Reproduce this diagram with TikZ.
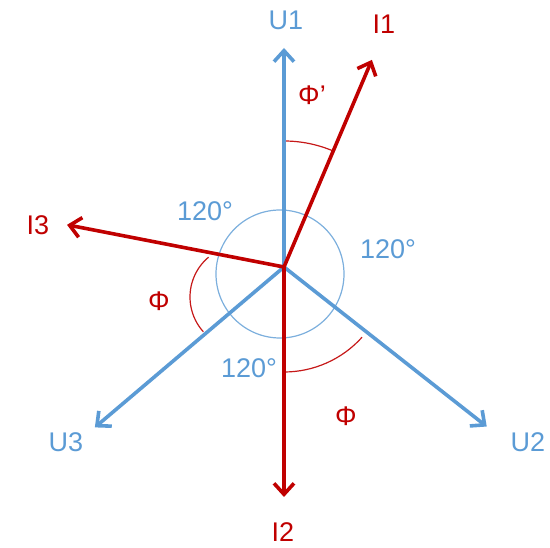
\documentclass[tikz,border=0pt]{standalone}
\usepackage{fontspec}
\setmainfont{Liberation Sans}
\usetikzlibrary{arrows.meta,calc}
\definecolor{ublue}{RGB}{91,155,213}
\definecolor{ired}{RGB}{192,0,0}
\tikzset{
    uvec/.style={ublue, line width=3.6pt, -{Straight Barb[length=11pt,width=20pt,line width=3.6pt]}},
    ivec/.style={ired, line width=3.6pt, -{Straight Barb[length=11pt,width=20pt,line width=3.6pt]}},
    ulabel/.style={ublue, inner sep=0pt},
    ilabel/.style={ired, inner sep=0pt},
    anglearc/.style={ired!90!white, line width=1.2pt},
}
\begin{document}
\begin{tikzpicture}[x=1pt, y=1pt, font=\fontsize{27}{32}\selectfont]
    \useasboundingbox (-284,-281) rectangle (266,267);

    % Origin and phasor tips
    \coordinate (O) at (0,0);
    \coordinate (U1) at (90:219);
    \coordinate (U2) at (-38.2:258);
    \coordinate (U3) at (220.3:248);
    \coordinate (I1) at (67:225);
    \coordinate (I2) at (270:230);
    \coordinate (I3) at (169:221);

    % 120 degree circle
    \draw[ublue!80!white, line width=1.2pt] (-4,-7) circle (64);

    % Phase angle arcs
    \draw[anglearc] (67:126) arc (67:90:126);
    \draw[anglearc] ($(-42,-30)+(130:52)$) arc (130:222:52);
    \draw[anglearc] (270:105) arc (270:318:105);

    % Voltage phasors
    \draw[uvec] (O) -- (U1);
    \draw[uvec] (O) -- (U2);
    \draw[uvec] (O) -- (U3);

    % Current phasors
    \draw[ivec] (O) -- (I1);
    \draw[ivec] (O) -- (I2);
    \draw[ivec] (O) -- (I3);

    % Labels
    \node[ulabel] (lU1) at (2,247) {U1};
    \node[ulabel] (lU2) at (244,-175) {U2};
    \node[ulabel] (lU3) at (-218,-175) {U3};
    \node[ilabel] (lI1) at (100,243) {I1};
    \node[ilabel] (lI2) at (-1,-265) {I2};
    \node[ilabel] (lI3) at (-246,42) {I3};
    \node[ulabel] (aTL) at (-79,56) {120°};
    \node[ulabel] (aR) at (104,18) {120°};
    \node[ulabel] (aB) at (-35,-101) {120°};
    \node[ilabel] (phiA) at (28,172) {Φ’};
    \node[ilabel] (phiB) at (-125,-34) {Φ};
    \node[ilabel] (phiC) at (62,-149) {Φ};

\end{tikzpicture}
\end{document}
